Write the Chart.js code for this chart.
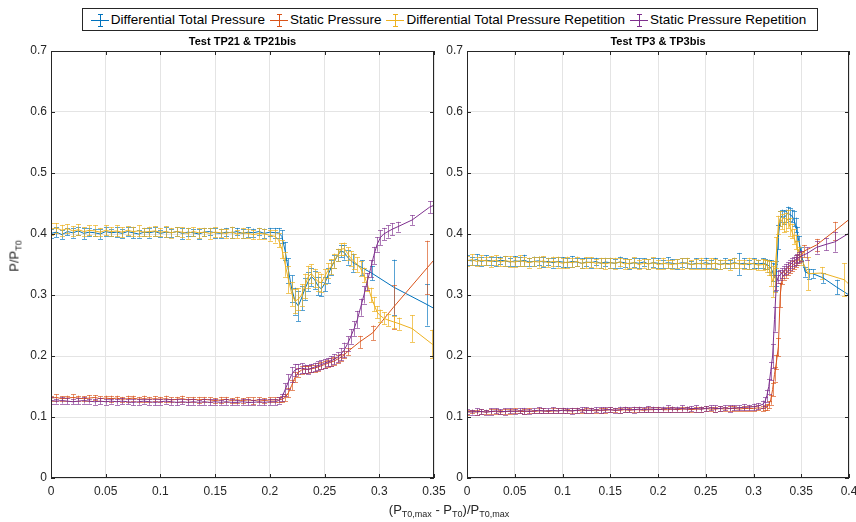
<!DOCTYPE html>
<html>
<head>
<meta charset="utf-8">
<script src="https://cdn.jsdelivr.net/npm/chart.js@4.4.1/dist/chart.umd.min.js"></script>
<style>
  body { margin: 0; background: #fff; font-family: "Liberation Sans", Arial, sans-serif; }
  #wrap { position: relative; width: 856px; height: 522px; overflow: hidden; }
  canvas { position: absolute; left: 0; top: 0; }
  #legend { position: absolute; left: 82px; top: 8px; width: 734px; height: 21px; border: 1px solid #262626;
            background: #fff; display: flex; align-items: center; justify-content: center; font-size: 13.5px; color: #000; white-space: nowrap; }
  .item { display: flex; align-items: center; margin-right: 4px; }
  .sym { position: relative; display: inline-block; width: 20px; height: 16px; margin-right: 1px; }
  .sym .h { position: absolute; left: 1px; right: 1px; top: 8px; height: 1px; background: var(--c); }
  .sym .v { position: absolute; left: 10px; top: 2px; width: 1px; height: 13px; background: var(--c); }
  .sym .c1, .sym .c2 { position: absolute; left: 8px; width: 5px; height: 1px; background: var(--c); }
  .sym .c1 { top: 2px; } .sym .c2 { top: 14px; }
  #ylab { position: absolute; left: 15px; top: 256px; transform: translate(-50%, -50%) rotate(-90deg); font-size: 13px; color: #262626; white-space: nowrap; }
  #xlab { position: absolute; left: 449px; top: 510px; transform: translate(-50%, -50%); font-size: 13px; color: #262626; white-space: nowrap; }
  sub { font-size: 9px; vertical-align: -3px; }
</style>
</head>
<body>
<div id="wrap">
  <canvas id="left" width="856" height="522"></canvas>
  <canvas id="right" width="856" height="522"></canvas>
  <div id="legend"></div>
  <div id="ylab">P/P<sub>T0</sub></div>
  <div id="xlab">(P<sub>T0,max</sub> - P<sub>T0</sub>)/P<sub>T0,max</sub></div>
</div>
<script>
// Series names and colours (MATLAB default order)
const seriesNames = ['Differential Total Pressure', 'Static Pressure', 'Differential Total Pressure Repetition', 'Static Pressure Repetition'];
const seriesColors = ['#0072BD', '#D95319', '#EDB120', '#7E2F8E'];
const barColors = ['rgba(0,114,189,0.65)', 'rgba(217,83,25,0.65)', 'rgba(237,177,32,0.7)', 'rgba(126,47,142,0.65)'];

const yTicksMax = 0.7;

// ---------- Test TP21 & TP21bis ----------
const tp21Title = 'Test TP21 & TP21bis';
const tp21XMax = 0.35;
const tp21X = [0,0.005,0.01,0.015,0.02,0.025,0.03,0.035,0.04,0.045,
  0.05,0.055,0.06,0.065,0.07,0.075,0.08,0.085,0.09,0.095,
  0.1,0.105,0.11,0.115,0.12,0.125,0.13,0.135,0.14,0.145,
  0.15,0.155,0.16,0.165,0.17,0.175,0.18,0.185,0.19,0.195,
  0.2,0.205,
  0.208,0.211,0.214,0.217,0.22,0.223,0.226,0.229,0.232,0.235,
  0.238,0.241,0.244,0.247,0.25,0.253,0.256,0.259,0.262,0.265,
  0.268,0.271];

const tp21TotalY = [0.401,0.403,0.399,0.404,0.402,0.405,0.401,0.403,0.402,0.400,
  0.404,0.402,0.403,0.401,0.404,0.402,0.400,0.403,0.402,0.404,
  0.401,0.403,0.402,0.404,0.401,0.403,0.402,0.400,0.403,0.404,
  0.402,0.401,0.403,0.402,0.404,0.401,0.403,0.402,0.404,0.401,
  0.403,0.402,
  0.402,0.396,0.372,0.34,0.31,0.29,0.282,0.295,0.31,0.322,
  0.33,0.325,0.315,0.31,0.318,0.332,0.345,0.355,0.365,0.372,
  0.37,0.362];
const tp21TotalErr = [0.007,0.008,0.007,0.006,0.008,0.007,0.009,0.007,0.006,0.008,
  0.007,0.006,0.008,0.007,0.007,0.009,0.006,0.007,0.008,0.007,
  0.006,0.008,0.007,0.007,0.009,0.007,0.006,0.008,0.007,0.006,
  0.008,0.007,0.007,0.009,0.006,0.007,0.008,0.007,0.006,0.008,
  0.007,0.008,
  0.008,0.01,0.015,0.02,0.022,0.022,0.025,0.02,0.018,0.015,
  0.015,0.015,0.015,0.012,0.012,0.012,0.012,0.01,0.01,0.01,
  0.012,0.012];
const tp21TotalTailX = [0.276,0.284,0.293,0.313,0.344,0.356];
const tp21TotalTailY = [0.353,0.345,0.336,0.313,0.284,0.272];
const tp21TotalTailErr = [0.015,0.012,0.012,0.045,0.034,0.03];

const tp21StaticY = [0.131,0.132,0.130,0.131,0.132,0.131,0.130,0.131,0.132,0.130,
  0.131,0.130,0.131,0.129,0.130,0.131,0.129,0.130,0.129,0.130,
  0.129,0.130,0.128,0.129,0.130,0.128,0.129,0.128,0.129,0.128,
  0.127,0.128,0.129,0.127,0.128,0.127,0.128,0.127,0.128,0.127,
  0.128,0.128,
  0.128,0.129,0.132,0.14,0.152,0.165,0.173,0.177,0.178,0.178,
  0.179,0.18,0.182,0.184,0.186,0.188,0.19,0.192,0.195,0.198,
  0.202,0.207];
const tp21StaticErr = [0.004,0.005,0.004,0.004,0.005,0.004,0.004,0.005,0.004,0.004,
  0.004,0.005,0.004,0.004,0.005,0.004,0.004,0.005,0.004,0.004,
  0.004,0.005,0.004,0.004,0.005,0.004,0.004,0.005,0.004,0.004,
  0.004,0.005,0.004,0.004,0.005,0.004,0.004,0.005,0.004,0.004,
  0.004,0.004,
  0.004,0.005,0.006,0.008,0.008,0.008,0.007,0.006,0.006,0.006,
  0.006,0.006,0.006,0.006,0.006,0.006,0.006,0.006,0.006,0.006,
  0.006,0.006];
const tp21StaticTailX = [0.282,0.294,0.313,0.344,0.356];
const tp21StaticTailY = [0.223,0.238,0.28,0.345,0.37];
const tp21StaticTailErr = [0.01,0.012,0.036,0.044,0.04];

const tp21TotalRepY = [0.408,0.410,0.406,0.409,0.405,0.407,0.404,0.406,0.405,0.403,
  0.406,0.404,0.405,0.403,0.406,0.404,0.405,0.403,0.404,0.405,
  0.403,0.404,0.402,0.404,0.403,0.401,0.404,0.402,0.403,0.401,
  0.403,0.402,0.401,0.403,0.400,0.402,0.401,0.399,0.401,0.400,
  0.398,0.396,
  0.39,0.375,0.35,0.325,0.302,0.29,0.293,0.3,0.315,0.33,
  0.335,0.328,0.322,0.32,0.33,0.34,0.347,0.356,0.366,0.375,
  0.376,0.368];
const tp21TotalRepErr = [0.01,0.008,0.009,0.007,0.008,0.009,0.007,0.008,0.009,0.007,
  0.008,0.007,0.009,0.008,0.007,0.008,0.009,0.007,0.008,0.008,
  0.007,0.009,0.008,0.007,0.008,0.009,0.007,0.008,0.007,0.009,
  0.008,0.007,0.008,0.009,0.007,0.008,0.007,0.008,0.009,0.008,
  0.009,0.01,
  0.012,0.015,0.02,0.022,0.02,0.02,0.018,0.018,0.02,0.018,
  0.015,0.015,0.015,0.015,0.012,0.012,0.012,0.012,0.01,0.01,
  0.01,0.01];
const tp21TotalRepTailX = [0.274,0.277,0.28,0.283,0.286,0.289,0.292,0.295,0.298,0.301,0.304,0.308,0.313,0.318,0.33,0.348,0.356];
const tp21TotalRepTailY = [0.36,0.355,0.35,0.343,0.333,0.318,0.30,0.285,0.272,0.266,0.262,0.259,0.256,0.253,0.245,0.22,0.21];
const tp21TotalRepTailErr = [0.012,0.012,0.012,0.012,0.012,0.012,0.012,0.012,0.01,0.01,0.01,0.01,0.01,0.01,0.022,0.023,0.02];

const tp21StaticRepY = [0.127,0.126,0.127,0.126,0.125,0.126,0.127,0.126,0.125,0.126,
  0.125,0.126,0.125,0.126,0.125,0.124,0.125,0.126,0.125,0.124,
  0.125,0.126,0.125,0.124,0.125,0.124,0.125,0.124,0.125,0.124,
  0.125,0.124,0.125,0.124,0.124,0.125,0.124,0.124,0.125,0.124,
  0.125,0.125,
  0.127,0.132,0.145,0.158,0.17,0.177,0.179,0.18,0.179,0.178,
  0.18,0.182,0.184,0.186,0.188,0.19,0.192,0.195,0.198,0.203,
  0.21,0.22];
const tp21StaticRepErr = [0.005,0.004,0.005,0.005,0.004,0.005,0.005,0.004,0.005,0.005,
  0.005,0.004,0.005,0.005,0.004,0.005,0.005,0.004,0.005,0.005,
  0.005,0.004,0.005,0.005,0.004,0.005,0.005,0.004,0.005,0.005,
  0.005,0.004,0.005,0.005,0.004,0.005,0.005,0.004,0.005,0.005,
  0.005,0.005,
  0.005,0.006,0.01,0.012,0.012,0.01,0.008,0.008,0.007,0.007,
  0.007,0.007,0.007,0.007,0.007,0.007,0.008,0.008,0.008,0.01,
  0.012,0.012];
const tp21StaticRepTailX = [0.274,0.277,0.28,0.283,0.286,0.289,0.292,0.295,0.298,0.301,0.304,0.308,0.312,0.317,0.33,0.346,0.356];
const tp21StaticRepTailY = [0.232,0.245,0.26,0.28,0.30,0.322,0.343,0.365,0.383,0.394,0.40,0.404,0.408,0.412,0.423,0.444,0.452];
const tp21StaticRepTailErr = [0.012,0.012,0.014,0.014,0.014,0.014,0.014,0.014,0.012,0.012,0.01,0.01,0.01,0.008,0.008,0.01,0.01];

// ---------- Test TP3 & TP3bis ----------
const tp3Title = 'Test TP3 & TP3bis';
const tp3XMax = 0.4;
const tp3X = [0,0.005,0.01,0.015,0.02,0.025,0.03,0.035,0.04,0.045,
  0.05,0.055,0.06,0.065,0.07,0.075,0.08,0.085,0.09,0.095,
  0.1,0.105,0.11,0.115,0.12,0.125,0.13,0.135,0.14,0.145,
  0.15,0.155,0.16,0.165,0.17,0.175,0.18,0.185,0.19,0.195,
  0.2,0.205,0.21,0.215,0.22,0.225,0.23,0.235,0.24,0.245,
  0.25,0.255,0.26,0.265,0.27,0.275,0.28,0.285,0.29,0.295,
  0.3,0.305,0.31,
  0.312,0.314,0.316,0.318,0.32,0.322,0.324,0.326,0.328,0.33,
  0.332,0.334,0.336,0.338,0.34,0.342,0.344,0.346,0.348,0.35];

const tp3TotalY = [0.357,0.356,0.358,0.355,0.357,0.356,0.355,0.357,0.356,0.354,
  0.356,0.355,0.357,0.354,0.355,0.356,0.354,0.355,0.353,0.355,
  0.354,0.353,0.355,0.354,0.352,0.354,0.353,0.355,0.352,0.354,
  0.353,0.352,0.354,0.353,0.351,0.353,0.352,0.354,0.351,0.353,
  0.352,0.351,0.353,0.352,0.351,0.353,0.352,0.350,0.352,0.351,
  0.353,0.351,0.352,0.350,0.352,0.351,0.353,0.351,0.352,0.350,
  0.352,0.351,0.352,
  0.351,0.350,0.348,0.345,0.338,0.328,0.335,0.395,0.425,0.43,
  0.427,0.43,0.435,0.432,0.43,0.425,0.415,0.40,0.385,0.368];
const tp3TotalErr = [0.008,0.007,0.009,0.007,0.008,0.007,0.008,0.006,0.008,0.007,
  0.008,0.007,0.009,0.007,0.008,0.007,0.008,0.006,0.008,0.007,
  0.008,0.007,0.009,0.007,0.008,0.007,0.008,0.006,0.008,0.007,
  0.008,0.007,0.009,0.007,0.008,0.007,0.008,0.006,0.008,0.007,
  0.008,0.007,0.009,0.007,0.008,0.007,0.008,0.006,0.008,0.007,
  0.008,0.007,0.009,0.007,0.008,0.007,0.008,0.018,0.008,0.007,
  0.008,0.007,0.008,
  0.008,0.008,0.01,0.012,0.015,0.022,0.02,0.02,0.012,0.01,
  0.01,0.01,0.01,0.01,0.01,0.012,0.012,0.012,0.012,0.01];
const tp3TotalTailX = [0.354,0.358,0.362,0.373,0.387,0.405];
const tp3TotalTailY = [0.338,0.335,0.335,0.328,0.313,0.295];
const tp3TotalTailErr = [0.008,0.008,0.007,0.008,0.012,0.01];

const tp3StaticY = [0.108,0.109,0.108,0.109,0.108,0.109,0.109,0.108,0.109,0.109,
  0.110,0.109,0.109,0.110,0.109,0.110,0.110,0.109,0.110,0.110,
  0.111,0.110,0.110,0.111,0.110,0.111,0.111,0.110,0.111,0.111,
  0.112,0.111,0.111,0.112,0.111,0.112,0.112,0.111,0.112,0.112,
  0.113,0.112,0.112,0.113,0.112,0.113,0.113,0.112,0.113,0.113,
  0.114,0.113,0.113,0.114,0.113,0.114,0.114,0.113,0.114,0.114,
  0.114,0.115,0.114,
  0.115,0.116,0.12,0.128,0.145,0.17,0.19,0.215,0.3,0.328,
  0.333,0.336,0.34,0.344,0.347,0.35,0.354,0.357,0.36,0.364];
const tp3StaticErr = [0.004,0.003,0.004,0.004,0.003,0.004,0.004,0.003,0.004,0.004,
  0.004,0.003,0.004,0.004,0.003,0.004,0.004,0.003,0.004,0.004,
  0.004,0.003,0.004,0.004,0.003,0.004,0.004,0.003,0.004,0.004,
  0.004,0.003,0.004,0.004,0.003,0.004,0.004,0.003,0.004,0.004,
  0.004,0.003,0.004,0.004,0.003,0.004,0.004,0.003,0.004,0.004,
  0.004,0.003,0.004,0.004,0.003,0.004,0.004,0.003,0.004,0.004,
  0.004,0.004,0.004,
  0.004,0.005,0.006,0.008,0.01,0.012,0.012,0.015,0.02,0.01,
  0.008,0.008,0.008,0.008,0.008,0.008,0.008,0.008,0.008,0.008];
const tp3StaticTailX = [0.353,0.366,0.385,0.405];
const tp3StaticTailY = [0.372,0.382,0.405,0.43];
const tp3StaticTailErr = [0.01,0.01,0.015,0.01];

const tp3TotalRepY = [0.356,0.358,0.355,0.357,0.356,0.355,0.357,0.354,0.356,0.355,
  0.354,0.356,0.355,0.353,0.355,0.354,0.356,0.353,0.355,0.354,
  0.352,0.354,0.353,0.355,0.352,0.353,0.354,0.352,0.353,0.351,
  0.353,0.352,0.354,0.351,0.352,0.353,0.350,0.352,0.351,0.353,
  0.350,0.352,0.351,0.350,0.352,0.351,0.353,0.350,0.351,0.352,
  0.350,0.351,0.352,0.350,0.351,0.350,0.352,0.351,0.350,0.352,
  0.351,0.349,0.350,
  0.350,0.348,0.344,0.335,0.322,0.33,0.37,0.415,0.425,0.42,
  0.415,0.42,0.425,0.412,0.405,0.396,0.387,0.377,0.368,0.36];
const tp3TotalRepErr = [0.008,0.009,0.007,0.008,0.007,0.009,0.008,0.007,0.008,0.009,
  0.008,0.009,0.007,0.008,0.007,0.009,0.008,0.007,0.008,0.009,
  0.008,0.009,0.007,0.008,0.007,0.009,0.008,0.007,0.008,0.009,
  0.008,0.009,0.007,0.008,0.007,0.009,0.008,0.007,0.008,0.009,
  0.008,0.009,0.007,0.008,0.007,0.009,0.008,0.007,0.008,0.009,
  0.008,0.009,0.007,0.008,0.007,0.009,0.008,0.007,0.008,0.009,
  0.008,0.008,0.009,
  0.008,0.01,0.012,0.02,0.025,0.025,0.025,0.015,0.012,0.012,
  0.012,0.015,0.015,0.015,0.012,0.012,0.012,0.012,0.01,0.01];
const tp3TotalRepTailX = [0.357,0.372,0.395,0.405];
const tp3TotalRepTailY = [0.335,0.336,0.325,0.31];
const tp3TotalRepTailErr = [0.027,0.01,0.027,0.01];

const tp3StaticRepY = [0.109,0.108,0.109,0.109,0.108,0.109,0.110,0.109,0.109,0.110,
  0.109,0.110,0.110,0.109,0.110,0.111,0.110,0.110,0.111,0.110,
  0.111,0.111,0.110,0.111,0.112,0.111,0.111,0.112,0.111,0.112,
  0.112,0.111,0.112,0.113,0.112,0.112,0.113,0.112,0.113,0.113,
  0.112,0.113,0.114,0.113,0.113,0.114,0.113,0.114,0.114,0.113,
  0.114,0.115,0.114,0.114,0.115,0.114,0.115,0.115,0.116,0.116,
  0.117,0.118,0.121,
  0.125,0.135,0.15,0.175,0.2,0.26,0.32,0.33,0.333,0.336,
  0.34,0.343,0.346,0.349,0.352,0.355,0.358,0.36,0.362,0.364];
const tp3StaticRepErr = [0.004,0.004,0.005,0.004,0.004,0.005,0.004,0.004,0.005,0.004,
  0.004,0.004,0.005,0.004,0.004,0.005,0.004,0.004,0.005,0.004,
  0.004,0.004,0.005,0.004,0.004,0.005,0.004,0.004,0.005,0.004,
  0.004,0.004,0.005,0.004,0.004,0.005,0.004,0.004,0.005,0.004,
  0.004,0.004,0.005,0.004,0.004,0.005,0.004,0.004,0.005,0.004,
  0.004,0.004,0.005,0.004,0.004,0.005,0.004,0.004,0.005,0.004,
  0.005,0.005,0.006,
  0.007,0.01,0.012,0.015,0.02,0.02,0.012,0.01,0.008,0.008,
  0.008,0.008,0.008,0.008,0.008,0.008,0.008,0.008,0.008,0.008];
const tp3StaticRepTailX = [0.356,0.366,0.376,0.385,0.405];
const tp3StaticRepTailY = [0.368,0.378,0.383,0.387,0.406];
const tp3StaticRepTailErr = [0.01,0.01,0.01,0.016,0.01];

// ---------- helpers ----------
function series(idx, xs, ys, errs) {
  return {
    label: seriesNames[idx],
    data: xs.map((x, i) => ({ x: x, y: ys[i] })),
    errors: errs,
    barColor: barColors[idx],
    borderColor: seriesColors[idx],
    backgroundColor: seriesColors[idx],
    borderWidth: 1,
    pointRadius: 0,
    tension: 0,
    fill: false,
    order: 4 - idx
  };
}

// error bars drawn right after each line, so stacking follows the series order
const errorBars = {
  id: 'errorBars',
  afterDatasetDraw(chart, args) {
    const ds = chart.data.datasets[args.index];
    const y = chart.scales.y;
    const a = chart.chartArea;
    const ctx = chart.ctx;
    ctx.save();
    ctx.beginPath();
    ctx.rect(a.left, a.top, a.right - a.left, a.bottom - a.top);
    ctx.clip();
    ctx.strokeStyle = ds.barColor;
    ctx.lineWidth = 1;
    args.meta.data.forEach((pt, i) => {
      const v = ds.data[i].y, e = ds.errors[i];
      const top = y.getPixelForValue(v + e), bot = y.getPixelForValue(v - e);
      const px = Math.round(pt.x) + 0.5;
      ctx.beginPath();
      ctx.moveTo(px, top); ctx.lineTo(px, bot);
      ctx.moveTo(px - 2.5, Math.round(top) + 0.5); ctx.lineTo(px + 2.5, Math.round(top) + 0.5);
      ctx.moveTo(px - 2.5, Math.round(bot) + 0.5); ctx.lineTo(px + 2.5, Math.round(bot) + 0.5);
      ctx.stroke();
    });
    ctx.restore();
  }
};

// MATLAB style box with inward ticks
const boxTicks = {
  id: 'boxTicks',
  afterDatasetsDraw(chart) {
    const a = chart.chartArea, ctx = chart.ctx;
    const xs = chart.scales.x, ys = chart.scales.y;
    ctx.save();
    ctx.strokeStyle = '#262626';
    ctx.lineWidth = 1;
    ctx.strokeRect(Math.round(a.left) + 0.5, Math.round(a.top) + 0.5, Math.round(a.right - a.left) - 1, Math.round(a.bottom - a.top) - 1);
    ctx.beginPath();
    xs.ticks.forEach(t => {
      const p = Math.round(xs.getPixelForValue(t.value)) + 0.5;
      ctx.moveTo(p, a.bottom); ctx.lineTo(p, a.bottom - 4);
      ctx.moveTo(p, a.top); ctx.lineTo(p, a.top + 4);
    });
    ys.ticks.forEach(t => {
      const p = Math.round(ys.getPixelForValue(t.value)) + 0.5;
      ctx.moveTo(a.left, p); ctx.lineTo(a.left + 4, p);
      ctx.moveTo(a.right, p); ctx.lineTo(a.right - 4, p);
    });
    ctx.stroke();
    ctx.restore();
  }
};

// MATLAB-like tick text: 0.1 rather than 0.10
const shortTick = v => String(parseFloat(Number(v).toFixed(4)));

function options(title, xMax, padLeft, padRight) {
  const tickFont = { family: '"Liberation Sans", Arial, sans-serif', size: 12 };
  return {
    responsive: false,
    animation: false,
    devicePixelRatio: 1,
    layout: { padding: { left: padLeft, right: padRight, top: 0, bottom: 0 } },
    plugins: {
      legend: { display: false },
      tooltip: { enabled: false },
      title: {
        display: true, text: title, fullSize: false, color: '#000',
        font: { family: '"Liberation Sans", Arial, sans-serif', size: 11, weight: 'bold', lineHeight: 1.2 },
        padding: { top: 35.4, bottom: 2.4 }
      }
    },
    scales: {
      x: {
        type: 'linear', min: 0, max: xMax,
        ticks: { stepSize: 0.05, color: '#262626', font: tickFont, padding: 6, maxRotation: 0, callback: shortTick },
        grid: { color: '#e4e4e4', drawTicks: false },
        border: { display: false },
        afterFit(s) { s.height = 44; s.paddingLeft = 0; s.paddingRight = 0; }
      },
      y: {
        type: 'linear', min: 0, max: yTicksMax,
        ticks: { stepSize: 0.1, color: '#262626', font: tickFont, padding: 4, callback: shortTick },
        grid: { color: '#e4e4e4', drawTicks: false },
        border: { display: false },
        afterFit(s) { s.width = 51; s.paddingTop = 0; s.paddingBottom = 0; }
      }
    }
  };
}

new Chart(document.getElementById('left'), {
  type: 'line',
  data: {
    datasets: [
      series(0, tp21X.concat(tp21TotalTailX), tp21TotalY.concat(tp21TotalTailY), tp21TotalErr.concat(tp21TotalTailErr)),
      series(1, tp21X.concat(tp21StaticTailX), tp21StaticY.concat(tp21StaticTailY), tp21StaticErr.concat(tp21StaticTailErr)),
      series(2, tp21X.concat(tp21TotalRepTailX), tp21TotalRepY.concat(tp21TotalRepTailY), tp21TotalRepErr.concat(tp21TotalRepTailErr)),
      series(3, tp21X.concat(tp21StaticRepTailX), tp21StaticRepY.concat(tp21StaticRepTailY), tp21StaticRepErr.concat(tp21StaticRepTailErr))
    ]
  },
  options: options(tp21Title, tp21XMax, 0, 856 - 434),
  plugins: [errorBars, boxTicks]
});

new Chart(document.getElementById('right'), {
  type: 'line',
  data: {
    datasets: [
      series(0, tp3X.concat(tp3TotalTailX), tp3TotalY.concat(tp3TotalTailY), tp3TotalErr.concat(tp3TotalTailErr)),
      series(1, tp3X.concat(tp3StaticTailX), tp3StaticY.concat(tp3StaticTailY), tp3StaticErr.concat(tp3StaticTailErr)),
      series(2, tp3X.concat(tp3TotalRepTailX), tp3TotalRepY.concat(tp3TotalRepTailY), tp3TotalRepErr.concat(tp3TotalRepTailErr)),
      series(3, tp3X.concat(tp3StaticRepTailX), tp3StaticRepY.concat(tp3StaticRepTailY), tp3StaticRepErr.concat(tp3StaticRepTailErr))
    ]
  },
  options: options(tp3Title, tp3XMax, 467 - 51, 856 - 849),
  plugins: [errorBars, boxTicks]
});

// legend across both panels
const legend = document.getElementById('legend');
seriesNames.forEach((name, i) => {
  const item = document.createElement('div');
  item.className = 'item';
  item.innerHTML = `<span class="sym" style="--c:${seriesColors[i]}"><i class="h"></i><i class="v"></i><i class="c1"></i><i class="c2"></i></span><span>${name}</span>`;
  legend.appendChild(item);
});
</script>
</body>
</html>
